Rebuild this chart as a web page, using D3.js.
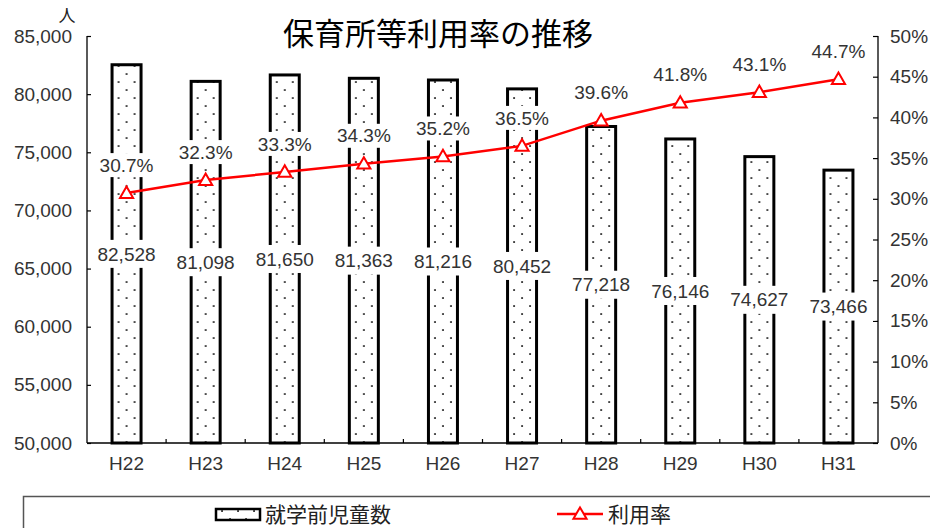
<!DOCTYPE html>
<html><head><meta charset="utf-8">
<script src="https://cdn.jsdelivr.net/npm/d3@7"></script>
<style>body{margin:0;background:#fff}svg{display:block}</style>
</head><body>
<script>
const categories = ["H22","H23","H24","H25","H26","H27","H28","H29","H30","H31"];
const children = [82528,81098,81650,81363,81216,80452,77218,76146,74627,73466];
const rates = [30.7,32.3,33.3,34.3,35.2,36.5,39.6,41.8,43.1,44.7];
const leftTicks = [50000,55000,60000,65000,70000,75000,80000,85000];
const rightTicks = [0,5,10,15,20,25,30,35,40,45,50];
const title = "保育所等利用率の推移";
const seriesNames = ["就学前児童数","利用率"];

const W=930,H=528;
const m={l:87,r:878,t:36,b:443};
const svg=d3.select("body").append("svg").attr("width",W).attr("height",H);
const defs=svg.append("defs");
const numFont="'Liberation Sans', Arial, sans-serif";
const cjkFont="'Noto Sans CJK JP', sans-serif";

const x=d3.scaleBand().domain(categories).range([m.l,m.r]).padding(0);
const yL=d3.scaleLinear().domain([50000,85000]).range([m.b,m.t]);
const yR=d3.scaleLinear().domain([0,50]).range([m.b,m.t]);
const barW=29;

function makePattern(id,cx,cy){
  const p=defs.append("pattern").attr("id",id).attr("patternUnits","userSpaceOnUse")
    .attr("x",cx-8).attr("y",cy).attr("width",16).attr("height",16);
  p.append("rect").attr("width",16).attr("height",16).attr("fill","#fff");
  [[7.2,1.2],[-0.8,9.2],[15.2,9.2]].forEach(([a,b])=>p.append("rect").attr("x",a).attr("y",b).attr("width",1.7).attr("height",1.7).attr("fill","#111"));
}

// bars
categories.forEach((c,i)=>{
  const cx=x(c)+x.bandwidth()/2;
  makePattern("pat"+i,cx,m.b-3);
  svg.append("rect").attr("x",cx-barW/2).attr("y",yL(children[i]))
    .attr("width",barW).attr("height",m.b-yL(children[i]))
    .attr("fill","url(#pat"+i+")").attr("stroke","#000").attr("stroke-width",3);
});

// axes
const gL=svg.append("g").attr("transform",`translate(${m.l},0)`)
  .call(d3.axisLeft(yL).tickValues(leftTicks).tickSize(-4).tickPadding(15).tickFormat(d3.format(",")));
const gR=svg.append("g").attr("transform",`translate(${m.r},0)`)
  .call(d3.axisRight(yR).tickValues(rightTicks).tickSize(-5).tickPadding(12).tickFormat(d=>d+"%"));
[gL,gR].forEach(g=>{
  g.select(".domain").attr("stroke","#000").attr("stroke-width",1.3).attr("d",`M0,${m.t}V${m.b}`);
  g.selectAll(".tick line").attr("stroke","#000").attr("stroke-width",1.2);
  g.selectAll(".tick text").attr("font-family",numFont).attr("font-size",19).attr("fill","#333");
});
// x axis
svg.append("line").attr("x1",m.l).attr("x2",m.r).attr("y1",m.b).attr("y2",m.b).attr("stroke","#000").attr("stroke-width",1.3);
categories.forEach((c,i)=>{
  if(i>0) svg.append("line").attr("x1",x(c)).attr("x2",x(c)).attr("y1",m.b).attr("y2",m.b-4).attr("stroke","#000").attr("stroke-width",1.2);
  svg.append("text").attr("x",x(c)+x.bandwidth()/2).attr("y",470).attr("text-anchor","middle")
    .attr("font-family",numFont).attr("font-size",19).attr("fill","#333").text(c);
});

// line
const line=d3.line().x((d,i)=>x(categories[i])+x.bandwidth()/2).y(d=>yR(d));
svg.append("path").datum(rates).attr("d",line).attr("fill","none").attr("stroke","#ff0000").attr("stroke-width",2.5);
const tri=d3.symbol().type(d3.symbolTriangle).size(75);
rates.forEach((r,i)=>{
  svg.append("path").attr("d",tri()).attr("transform",`translate(${x(categories[i])+x.bandwidth()/2},${yR(r)+1})`)
    .attr("fill","#fff").attr("stroke","#ff0000").attr("stroke-width",2);
});

function boxLabel(txt,cx,cy,padX,h){
  const g=svg.append("g");
  const rect=g.append("rect").attr("fill","#fff");
  const t=g.append("text").attr("x",cx).attr("y",cy).attr("dy","0.35em").attr("text-anchor","middle")
    .attr("font-family",numFont).attr("font-size",19).attr("fill","#333").text(txt);
  const w=t.node().getComputedTextLength();
  rect.attr("x",cx-w/2-padX).attr("y",cy-h/2).attr("width",w+2*padX).attr("height",h);
}
// bar value labels
children.forEach((v,i)=>{
  const cx=x(categories[i])+x.bandwidth()/2;
  boxLabel(d3.format(",")(v),cx,(yL(v)+m.b)/2,8,28);
});
// rate labels
rates.forEach((r,i)=>{
  const cx=x(categories[i])+x.bandwidth()/2;
  boxLabel(r.toFixed(1)+"%",cx,yR(r)-28,4,24);
});

// title and unit
svg.append("text").attr("x",438).attr("y",45).attr("text-anchor","middle")
  .attr("font-family",cjkFont).attr("font-size",31).attr("fill","#000").text(title);
svg.append("text").attr("x",67).attr("y",22).attr("text-anchor","middle")
  .attr("font-family",cjkFont).attr("font-size",17).attr("fill","#222").text("人");

// legend
svg.append("rect").attr("x",23.5).attr("y",496.5).attr("width",920).attr("height",60)
  .attr("fill","none").attr("stroke","#555").attr("stroke-width",1.5);
makePattern("patLeg",238,509);
svg.append("rect").attr("x",216).attr("y",509).attr("width",44).attr("height",11)
  .attr("fill","url(#patLeg)").attr("stroke","#000").attr("stroke-width",2.5);
svg.append("text").attr("x",265).attr("y",522).attr("font-family",cjkFont).attr("font-size",21).attr("fill","#222").text(seriesNames[0]);
svg.append("line").attr("x1",557).attr("x2",603).attr("y1",514).attr("y2",514).attr("stroke","#ff0000").attr("stroke-width",2.5);
svg.append("path").attr("d",tri()).attr("transform","translate(580,515)").attr("fill","#fff").attr("stroke","#ff0000").attr("stroke-width",2);
svg.append("text").attr("x",608).attr("y",522).attr("font-family",cjkFont).attr("font-size",21).attr("fill","#222").text(seriesNames[1]);
</script>
</body></html>
